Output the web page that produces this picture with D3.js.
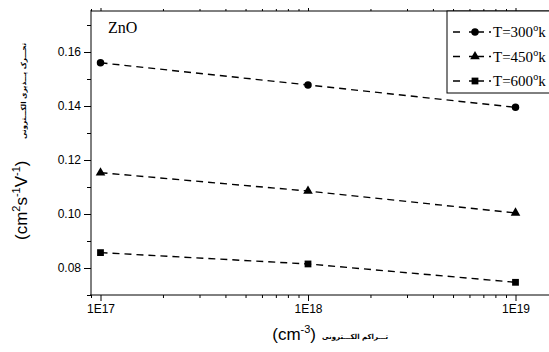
<!DOCTYPE html>
<html>
<head>
<meta charset="utf-8">
<script src="https://cdn.jsdelivr.net/npm/d3@7"></script>
<style>
  body { margin: 0; background: #fff; }
  svg { display: block; }
</style>
</head>
<body>
<div id="chart"></div>
<script>
// data
var concentrations = [1e17, 1e18, 1e19];
var seriesNames = ["T=300", "T=450", "T=600"];
var mob300 = [0.156, 0.1478, 0.1395];
var mob450 = [0.1153, 0.1085, 0.1004];
var mob600 = [0.0857, 0.0815, 0.0747];
var yTicks = [0.08, 0.10, 0.12, 0.14, 0.16];
var yMinor = [0.07, 0.09, 0.11, 0.13, 0.15, 0.17];
var xTickLabels = ["1E17", "1E18", "1E19"];

var W = 549, H = 352;
var pLeft = 91, pRight = 551, pTop = 11, pBottom = 295;

var svg = d3.select("#chart").append("svg")
  .attr("width", W)
  .attr("height", H);

// log x scale, one decade ~207px
var x = d3.scaleLog()
  .domain([1e17, 1e19])
  .range([100.5, 515.5]);

var y = d3.scaleLinear()
  .domain([0.08, 0.16])
  .range([268, 52]);

// minor log ticks inside the plot width
var xMinor = [];
[1e16, 1e17, 1e18, 1e19].forEach(function (dec) {
  for (var k = 2; k <= 9; k++) {
    var v = dec * k;
    if (x(v) >= pLeft - 1 && x(v) <= pRight) xMinor.push(v);
  }
});

var tickFont = "Liberation Sans, Arial, sans-serif";
var serif = "Liberation Serif, Times New Roman, DejaVu Serif, serif";

// bottom axis
var gx = svg.append("g")
  .attr("transform", "translate(0," + pBottom + ")")
  .call(d3.axisBottom(x).tickValues(concentrations)
    .tickFormat(function (d, i) { return xTickLabels[i]; })
    .tickSize(6).tickSizeOuter(0).tickPadding(3));
gx.select(".domain").remove();
gx.selectAll("text").attr("font-family", tickFont).attr("font-size", 12).attr("fill", "#000");

svg.append("g")
  .attr("transform", "translate(0," + pBottom + ")")
  .call(d3.axisBottom(x).tickValues(xMinor).tickFormat("").tickSize(3).tickSizeOuter(0))
  .select(".domain").remove();

// top border ticks (outward)
svg.append("g")
  .attr("transform", "translate(0," + pTop + ")")
  .call(d3.axisTop(x).tickValues(concentrations).tickFormat("").tickSize(3).tickSizeOuter(0))
  .select(".domain").remove();
svg.append("g")
  .attr("transform", "translate(0," + pTop + ")")
  .call(d3.axisTop(x).tickValues(xMinor).tickFormat("").tickSize(2).tickSizeOuter(0))
  .select(".domain").remove();

// left axis
var gy = svg.append("g")
  .attr("transform", "translate(" + pLeft + ",0)")
  .call(d3.axisLeft(y).tickValues(yTicks).tickFormat(d3.format(".2f"))
    .tickSize(7).tickSizeOuter(0).tickPadding(3));
gy.select(".domain").remove();
gy.selectAll("text").attr("font-family", tickFont).attr("font-size", 12).attr("fill", "#000");

svg.append("g")
  .attr("transform", "translate(" + pLeft + ",0)")
  .call(d3.axisLeft(y).tickValues(yMinor).tickFormat("").tickSize(4).tickSizeOuter(0))
  .select(".domain").remove();

// frame lines
svg.append("line").attr("x1", pLeft).attr("x2", pLeft).attr("y1", pTop - 1).attr("y2", pBottom + 1)
  .attr("stroke", "#000").attr("stroke-width", 1);
svg.append("line").attr("x1", pLeft - 1).attr("x2", pRight).attr("y1", pBottom).attr("y2", pBottom)
  .attr("stroke", "#000").attr("stroke-width", 1);
svg.append("line").attr("x1", pLeft).attr("x2", pRight).attr("y1", pTop).attr("y2", pTop)
  .attr("stroke", "#000").attr("stroke-width", 1);

// series
var series = [
  { name: seriesNames[0], values: mob300, shape: d3.symbolCircle, size: 44 },
  { name: seriesNames[1], values: mob450, shape: d3.symbolTriangle, size: 40 },
  { name: seriesNames[2], values: mob600, shape: d3.symbolSquare, size: 46 }
];

var line = d3.line()
  .x(function (d) { return x(d[0]); })
  .y(function (d) { return y(d[1]); });

series.forEach(function (s) {
  var pts = concentrations.map(function (c, i) { return [c, s.values[i]]; });
  svg.append("path")
    .datum(pts)
    .attr("d", line)
    .attr("fill", "none")
    .attr("stroke", "#000")
    .attr("stroke-width", 1.4)
    .attr("stroke-dasharray", "7,5");
  svg.selectAll(null)
    .data(pts)
    .enter()
    .append("path")
    .attr("transform", function (d) { return "translate(" + x(d[0]) + "," + y(d[1]) + ")"; })
    .attr("d", d3.symbol().type(s.shape).size(s.size))
    .attr("fill", "#000");
});

// ZnO label
svg.append("text")
  .attr("x", 108).attr("y", 33)
  .attr("font-family", serif)
  .attr("font-size", 16)
  .text("ZnO");

// legend
var leg = svg.append("g");
leg.append("rect")
  .attr("x", 447).attr("y", pTop)
  .attr("width", 110).attr("height", 82)
  .attr("fill", "#fff").attr("stroke", "#000").attr("stroke-width", 1);

series.forEach(function (s, i) {
  var ly = 32 + i * 24.5;
  leg.append("line")
    .attr("x1", 453).attr("x2", 492)
    .attr("y1", ly).attr("y2", ly)
    .attr("stroke", "#000").attr("stroke-width", 1.4)
    .attr("stroke-dasharray", "7,9,15,5,2,100");
  leg.append("path")
    .attr("transform", "translate(475," + ly + ")")
    .attr("d", d3.symbol().type(s.shape).size(s.size))
    .attr("fill", "#000");
  var t = leg.append("text")
    .attr("x", 493).attr("y", ly + 5)
    .attr("font-family", serif)
    .attr("font-size", 15);
  t.append("tspan").text(s.name);
  t.append("tspan").attr("dy", -6).attr("font-size", 10).text("o");
  t.append("tspan").attr("dy", 6).text("k");
});

// x axis title
var xl = svg.append("text")
  .attr("x", 316).attr("y", 340)
  .attr("text-anchor", "end")
  .attr("font-family", tickFont)
  .attr("font-size", 17);
xl.append("tspan").text("(cm");
xl.append("tspan").attr("dy", -7).attr("font-size", 11).text("-3");
xl.append("tspan").attr("dy", 7).text(")");

svg.append("text")
  .attr("x", 322).attr("y", 339)
  .attr("text-anchor", "start")
  .attr("font-family", "DejaVu Sans, sans-serif")
  .attr("font-weight", "bold")
  .attr("font-size", 7)
  .text("تـــراکم الکـــترونی");

// y axis title (rotated)
var yg = svg.append("g").attr("transform", "translate(27,153) rotate(-90)");
var yl = yg.append("text")
  .attr("x", -87).attr("y", 0)
  .attr("text-anchor", "start")
  .attr("font-family", tickFont)
  .attr("font-size", 17);
yl.append("tspan").text("(cm");
yl.append("tspan").attr("dy", -7).attr("font-size", 11).text("2");
yl.append("tspan").attr("dy", 7).text("s");
yl.append("tspan").attr("dy", -7).attr("font-size", 11).text("-1");
yl.append("tspan").attr("dy", 7).text("V");
yl.append("tspan").attr("dy", -7).attr("font-size", 11).text("-1");
yl.append("tspan").attr("dy", 7).text(")");

yg.append("text")
  .attr("x", 14).attr("y", -1)
  .attr("text-anchor", "start")
  .attr("font-family", "DejaVu Sans, sans-serif")
  .attr("font-weight", "bold")
  .attr("font-size", 7)
  .text("تحـــرک پـــذیری الکـــترونی");
</script>
</body>
</html>
